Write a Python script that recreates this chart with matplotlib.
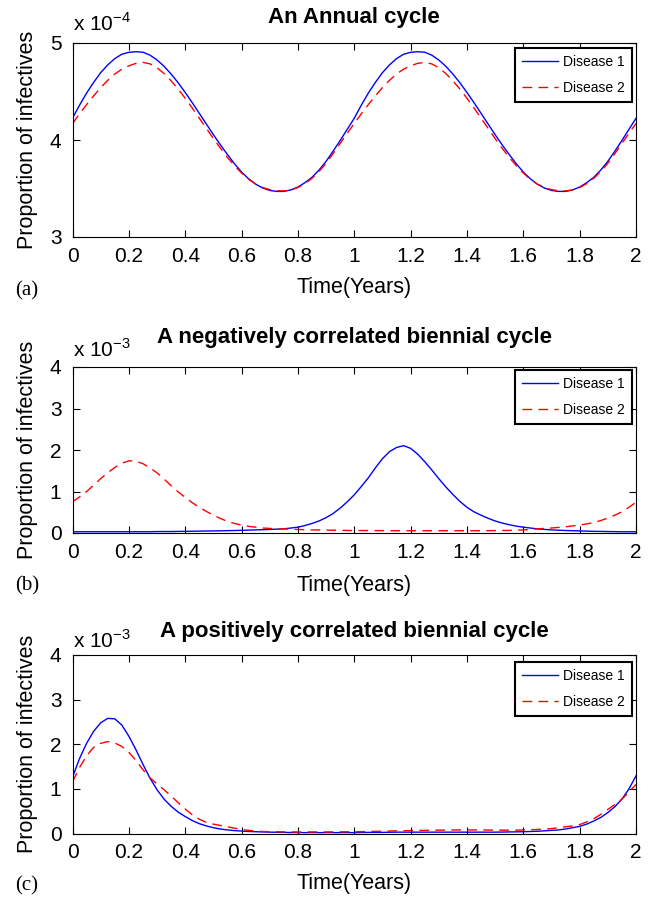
import numpy as np
import matplotlib
matplotlib.use("Agg")
import matplotlib.pyplot as plt
from matplotlib.ticker import FormatStrFormatter

# ---- data (in units of the axis multiplier) ----
# all series sampled every 0.025 yr, 8 values per row = 0.2 yr
t = np.linspace(0, 2, 81)

# (a) annual cycle, x 1e-4
annual_d1 = [4.224, 4.359, 4.484, 4.594, 4.694, 4.774, 4.839, 4.884,
             4.904, 4.91, 4.905, 4.875, 4.825, 4.76, 4.68, 4.59,
             4.49, 4.385, 4.275, 4.165, 4.055, 3.95, 3.85, 3.755,
             3.67, 3.60, 3.545, 3.505, 3.48, 3.47, 3.47, 3.485,
             3.515, 3.56, 3.615, 3.69, 3.78, 3.885, 3.995, 4.11,
             4.224, 4.359, 4.484, 4.594, 4.694, 4.774, 4.839, 4.884,
             4.904, 4.91, 4.905, 4.875, 4.825, 4.76, 4.68, 4.59,
             4.49, 4.385, 4.275, 4.165, 4.055, 3.95, 3.85, 3.755,
             3.67, 3.60, 3.545, 3.505, 3.48, 3.47, 3.47, 3.485,
             3.515, 3.56, 3.615, 3.69, 3.78, 3.885, 3.995, 4.11,
             4.224]
annual_d2 = [4.17, 4.27, 4.365, 4.455, 4.54, 4.615, 4.68, 4.73,
             4.765, 4.79, 4.80, 4.785, 4.745, 4.685, 4.61, 4.525,
             4.43, 4.33, 4.225, 4.12, 4.015, 3.915, 3.82, 3.735,
             3.66, 3.595, 3.545, 3.51, 3.488, 3.477, 3.475, 3.485,
             3.51, 3.55, 3.605, 3.675, 3.76, 3.86, 3.965, 4.07,
             4.17, 4.27, 4.365, 4.455, 4.54, 4.615, 4.68, 4.73,
             4.765, 4.79, 4.80, 4.785, 4.745, 4.685, 4.61, 4.525,
             4.43, 4.33, 4.225, 4.12, 4.015, 3.915, 3.82, 3.735,
             3.66, 3.595, 3.545, 3.51, 3.488, 3.477, 3.475, 3.485,
             3.51, 3.55, 3.605, 3.675, 3.76, 3.86, 3.965, 4.07,
             4.17]

# (b) negatively correlated biennial cycle, x 1e-3
neg_d1 = [0.03, 0.03, 0.03, 0.03, 0.03, 0.03, 0.03, 0.03,
          0.03, 0.03, 0.03, 0.03, 0.035, 0.035, 0.035, 0.038,
          0.04, 0.042, 0.045, 0.048, 0.05, 0.053, 0.056, 0.06,
          0.065, 0.07, 0.075, 0.08, 0.085, 0.093, 0.10, 0.12,
          0.14, 0.18, 0.23, 0.29, 0.37, 0.47, 0.60, 0.75,
          0.92, 1.12, 1.33, 1.57, 1.79, 1.96, 2.06, 2.105,
          2.04, 1.90, 1.72, 1.52, 1.31, 1.11, 0.93, 0.76,
          0.62, 0.51, 0.43, 0.355, 0.29, 0.24, 0.20, 0.165,
          0.14, 0.12, 0.10, 0.087, 0.075, 0.067, 0.06, 0.055,
          0.05, 0.045, 0.04, 0.038, 0.035, 0.033, 0.03, 0.03,
          0.03]
neg_d2 = [0.75, 0.87, 1.00, 1.15, 1.31, 1.45, 1.58, 1.68,
          1.74, 1.73, 1.67, 1.57, 1.45, 1.30, 1.14, 0.99,
          0.86, 0.73, 0.62, 0.52, 0.43, 0.35, 0.28, 0.23,
          0.19, 0.16, 0.14, 0.12, 0.11, 0.10, 0.10, 0.09,
          0.085, 0.08, 0.075, 0.072, 0.07, 0.067, 0.065, 0.062,
          0.06, 0.06, 0.06, 0.058, 0.057, 0.056, 0.055, 0.055,
          0.055, 0.055, 0.055, 0.055, 0.055, 0.055, 0.055, 0.055,
          0.055, 0.055, 0.055, 0.056, 0.058, 0.06, 0.063, 0.068,
          0.075, 0.085, 0.10, 0.11, 0.12, 0.135, 0.15, 0.17,
          0.19, 0.22, 0.25, 0.30, 0.36, 0.43, 0.51, 0.62,
          0.74]

# (c) positively correlated biennial cycle, x 1e-3
pos_d1 = [1.26, 1.68, 2.02, 2.29, 2.48, 2.58, 2.57, 2.43,
          2.18, 1.88, 1.55, 1.24, 0.98, 0.77, 0.61, 0.48,
          0.38, 0.29, 0.22, 0.17, 0.13, 0.10, 0.08, 0.065,
          0.055, 0.045, 0.04, 0.035, 0.03, 0.028, 0.025, 0.022,
          0.02, 0.02, 0.02, 0.02, 0.02, 0.02, 0.02, 0.02,
          0.02, 0.022, 0.025, 0.025, 0.025, 0.028, 0.03, 0.03,
          0.03, 0.03, 0.03, 0.03, 0.03, 0.03, 0.03, 0.03,
          0.03, 0.03, 0.03, 0.03, 0.03, 0.032, 0.035, 0.037,
          0.04, 0.045, 0.05, 0.06, 0.07, 0.08, 0.10, 0.13,
          0.16, 0.21, 0.28, 0.36, 0.47, 0.60, 0.77, 1.00,
          1.29]
pos_d2 = [1.16, 1.48, 1.74, 1.93, 2.02, 2.06, 2.03, 1.95,
          1.82, 1.64, 1.43, 1.25, 1.11, 0.98, 0.84, 0.69,
          0.55, 0.42, 0.32, 0.25, 0.21, 0.18, 0.15, 0.12,
          0.09, 0.07, 0.055, 0.045, 0.04, 0.038, 0.036, 0.035,
          0.035, 0.035, 0.035, 0.035, 0.035, 0.036, 0.037, 0.038,
          0.04, 0.042, 0.045, 0.048, 0.05, 0.055, 0.06, 0.062,
          0.065, 0.068, 0.07, 0.072, 0.075, 0.078, 0.08, 0.08,
          0.08, 0.08, 0.08, 0.078, 0.075, 0.075, 0.075, 0.075,
          0.08, 0.085, 0.09, 0.10, 0.11, 0.13, 0.15, 0.17,
          0.20, 0.26, 0.33, 0.43, 0.54, 0.65, 0.77, 0.93,
          1.10]

labels = ["Disease 1", "Disease 2"]
x_ticks = [0, 0.2, 0.4, 0.6, 0.8, 1, 1.2, 1.4, 1.6, 1.8, 2]

# ---- layout in pixels of the 661x899 reference ----
W, H = 661, 899
SANS = "Liberation Sans"
plt.rcParams["font.family"] = SANS
plt.rcParams["mathtext.fontset"] = "custom"
plt.rcParams["mathtext.rm"] = SANS

panels = [
    dict(d1=annual_d1, d2=annual_d2, ylim=(3, 5), yticks=[3, 4, 5], exp="-4",
         title="An Annual cycle", tag="(a)",
         box=(72.5, 43, 636, 237), title_y=18, exp_y=24, xlab_y=288, tag_y=291, leg_top=48),
    dict(d1=neg_d1, d2=neg_d2, ylim=(0, 4), yticks=[0, 1, 2, 3, 4], exp="-3",
         title="A negatively correlated biennial cycle", tag="(b)",
         box=(72.5, 367, 636, 533), title_y=338, exp_y=350, xlab_y=585, tag_y=586, leg_top=370),
    dict(d1=pos_d1, d2=pos_d2, ylim=(0, 4), yticks=[0, 1, 2, 3, 4], exp="-3",
         title="A positively correlated biennial cycle", tag="(c)",
         box=(72.5, 655, 636, 833.5), title_y=631, exp_y=641, xlab_y=884, tag_y=886, leg_top=662),
]

fig = plt.figure(figsize=(W / 100, H / 100), dpi=100)


def fy(px):
    return 1 - px / H


for p in panels:
    l, top, r, b = p["box"]
    ax = fig.add_axes([l / W, fy(b), (r - l) / W, (b - top) / H])
    ax.plot(t, p["d1"], color="#0000ff", lw=1.0, label=labels[0])
    ax.plot(t, p["d2"], color="#ff0000", lw=1.0, ls=(0, (7, 4.5)), label=labels[1])
    ax.set_xlim(0, 2)
    ax.set_ylim(*p["ylim"])
    ax.set_xticks(x_ticks)
    ax.set_yticks(p["yticks"])
    ax.xaxis.set_major_formatter(FormatStrFormatter("%g"))
    ax.yaxis.set_major_formatter(FormatStrFormatter("%g"))
    ax.tick_params(direction="in", top=True, right=True, length=5, width=0.8,
                   labelsize=15)
    ax.tick_params(axis="x", pad=7)
    ax.tick_params(axis="y", pad=8)
    for s in ax.spines.values():
        s.set_linewidth(0.8)

    leg_y = (b - p["leg_top"]) / (b - top)
    leg = ax.legend(loc="upper right", bbox_to_anchor=(0.993, leg_y), borderaxespad=0,
                    fontsize=10, handlelength=2.6, handletextpad=0.35,
                    labelspacing=0.85, borderpad=0.5, fancybox=False, framealpha=1)
    leg.get_frame().set_edgecolor("black")
    leg.get_frame().set_linewidth(1.5)

    cx = (l + r) / 2 / W
    fig.text(cx, fy(p["title_y"]), p["title"], ha="center", va="center",
             fontsize=16, fontweight="bold")
    fig.text(73 / W, fy(p["exp_y"]), r"x 10$^{\mathregular{%s}}$" % p["exp"],
             ha="left", va="center", fontsize=15)
    fig.text(cx, fy(p["xlab_y"]), "Time(Years)", ha="center", va="center", fontsize=15.5)
    fig.text(28 / W, fy((top + b) / 2), "Proportion of infectives", rotation=90,
             ha="center", va="center", fontsize=15.5)
    fig.text(15 / W, fy(p["tag_y"]), p["tag"], ha="left", va="center",
             fontsize=15, family="Liberation Serif")

fig.savefig("out.png", dpi=100)
